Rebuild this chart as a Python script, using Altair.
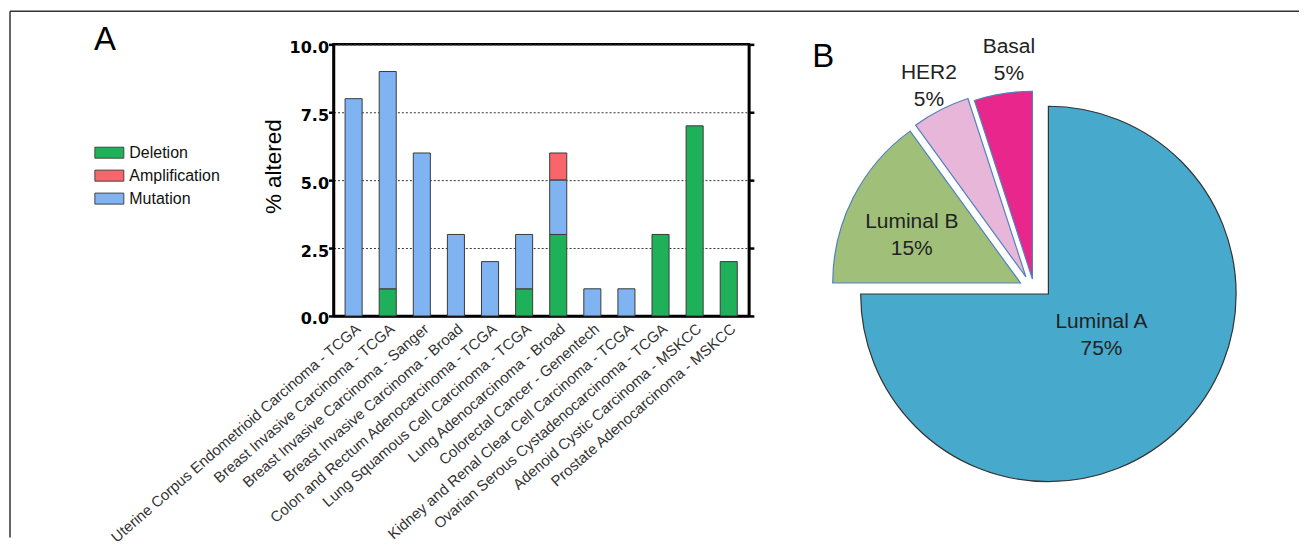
import altair as alt
import pandas as pd

# ---------------- data ----------------
categories = [
    "Uterine Corpus Endometrioid Carcinoma - TCGA",
    "Breast Invasive Carcinoma - TCGA",
    "Breast Invasive Carcinoma - Sanger",
    "Breast Invasive Carcinoma - Broad",
    "Colon and Rectum Adenocarcinoma - TCGA",
    "Lung Squamous Cell Carcinoma - TCGA",
    "Lung Adenocarcinoma - Broad",
    "Colorectal Cancer - Genentech",
    "Kidney and Renal Clear Cell Carcinoma - TCGA",
    "Ovarian Serous Cystadenocarcinoma - TCGA",
    "Adenoid Cystic Carcinoma - MSKCC",
    "Prostate Adenocarcinoma - MSKCC",
]
deletion = [0, 1, 0, 0, 0, 1, 3, 0, 0, 3, 7, 2]
amplification = [0, 0, 0, 0, 0, 0, 1, 0, 0, 0, 0, 0]
mutation = [8, 8, 6, 3, 2, 2, 2, 1, 1, 0, 0, 0]
alteration_types = ["Deletion", "Amplification", "Mutation"]
alteration_colors = ["#1fb15a", "#f8666b", "#80b3f2"]
stack_rank = {"Deletion": 0, "Mutation": 1, "Amplification": 2}
y_ticks = [0, 2.5, 5, 7.5, 10]

subtypes = ["Luminal A", "Luminal B", "HER2", "Basal"]
subtype_pct = [75, 15, 5, 5]
subtype_colors = ["#47aacd", "#a0c07a", "#e8b6d9", "#e8268c"]

# ---------------- tables ----------------
rows = []
for i, c in enumerate(categories):
    for t, vals in (("Deletion", deletion), ("Amplification", amplification), ("Mutation", mutation)):
        if vals[i] > 0:
            rows.append({"cancer": c, "type": t, "value": vals[i], "rank": stack_rank[t]})
bars_df = pd.DataFrame(rows)

pie_df = pd.DataFrame({
    "subtype": subtypes,
    "pct": subtype_pct,
    "ord": list(range(len(subtypes))),
    "label": [f"{s}\n{p}%" for s, p in zip(subtypes, subtype_pct)],
})

FONT = "Liberation Sans"

# ---------------- panel A ----------------
x_enc = alt.X(
    "cancer:N", sort=categories, title=None,
    scale=alt.Scale(paddingInner=0.5, paddingOuter=0.34),
    axis=alt.Axis(labelAngle=-41, labelAlign="right", labelBaseline="top",
                  labelFontSize=15, labelColor="#333", labelFont=FONT,
                  labelPadding=5, ticks=False, domainWidth=2.5, domainColor="black",
                  labelLimit=400, labelOverlap=False),
)

bars = alt.Chart(bars_df).mark_bar(stroke="#3a3a3a", strokeWidth=1).encode(
    x=x_enc,
    y=alt.Y("value:Q", stack="zero", scale=alt.Scale(domain=[0, 10]),
            axis=alt.Axis(title="% altered", titleFontSize=22.5, titleFontWeight="normal",
                          titleColor="black", titleFont=FONT, titleX=-60, titleY=122,
                          titleBaseline="middle",
                          values=y_ticks, format=".1f", labelFontSize=16,
                          labelFontWeight="bold", labelColor="black", labelFont="DejaVu Sans",
                          labelPadding=0, labelOffset=3, tickSize=5, tickWidth=2.5,
                          tickColor="black", domainWidth=2.5, domainColor="black",
                          grid=True, gridDash=[2, 2], gridColor="#333", gridWidth=1)),
    color=alt.Color("type:N", scale=alt.Scale(domain=alteration_types, range=alteration_colors),
                    legend=alt.Legend(title=None, orient="none", legendX=-239.5, legendY=93.5,
                                      symbolType="M-1,-0.38L1,-0.38L1,0.38L-1,0.38Z",
                                      symbolSize=841, symbolStrokeColor="#444",
                                      symbolStrokeWidth=1, symbolOpacity=1,
                                      labelFontSize=16, labelFont=FONT, labelColor="#111",
                                      labelOffset=5, rowPadding=-5, padding=0)),
    order=alt.Order("rank:Q"),
)

right_axis = alt.Chart(bars_df).mark_bar(opacity=0).encode(
    x=x_enc,
    y=alt.Y("value:Q", stack="zero",
            axis=alt.Axis(orient="right", labels=False, title=None, values=y_ticks,
                          tickSize=5, tickWidth=2.5, tickColor="black",
                          domainWidth=2.5, domainColor="black", grid=False)),
)

one = pd.DataFrame({"t": ["A"]})
label_a = alt.Chart(one).mark_text(fontSize=33, font=FONT, color="black").encode(
    text="t:N", x=alt.value(-228.8), y=alt.value(-4.5))

frame_top = alt.Chart(one).mark_rule(color="#333", strokeWidth=1.5).encode(
    x=alt.value(-324), x2=alt.value(967), y=alt.value(-33.25))
frame_left = alt.Chart(one).mark_rule(color="#333", strokeWidth=1.5).encode(
    x=alt.value(-324), y=alt.value(-33.25), y2=alt.value(494))

panel_a = alt.layer(bars, right_axis, label_a, frame_top, frame_left).resolve_axis(
    y="independent").properties(
    width=416, height=272,
    view=alt.ViewBackground(stroke="black", strokeWidth=2.5))

# ---------------- panel B ----------------
theta_scale = alt.Scale(domain=[0, 100], range=[0, 6.283185307])
pie_base = alt.Chart(pie_df).transform_stack(
    stack="pct", groupby=[], as_=["t0", "t1"], sort=[alt.SortField("ord", order="ascending")]
).transform_calculate(tm="(datum.t0 + datum.t1) / 2")

# per-slice centre (exploded), outline colour and label placement
slice_style = {
    "Luminal A": dict(cx=289.5, cy=250, stroke="#333", lr=67, dx=5.8, dy=-19.7),
    "Luminal B": dict(cx=261.5, cy=239, stroke="#4f81bd", lr=119, dx=-2.8, dy=-7),
    "HER2": dict(cx=267, cy=233, stroke="#4f81bd", lr=214, dx=0, dy=-13.5),
    "Basal": dict(cx=273.5, cy=235, stroke="#4f81bd", lr=220, dx=10.9, dy=-14.9),
}

pie_layers = []
for name in subtypes:
    st = slice_style[name]
    sub = pie_base.transform_filter(alt.datum.subtype == name)
    pie_layers.append(
        sub.mark_arc(radius=188, stroke=st["stroke"], strokeWidth=1.2).encode(
            theta=alt.Theta("t0:Q", scale=theta_scale),
            theta2="t1:Q",
            fill=alt.Fill("subtype:N", scale=alt.Scale(domain=subtypes, range=subtype_colors),
                          legend=None),
            x=alt.value(st["cx"]), y=alt.value(st["cy"]),
        )
    )
for name in subtypes:
    st = slice_style[name]
    sub = pie_base.transform_filter(alt.datum.subtype == name)
    pie_layers.append(
        sub.mark_text(radius=st["lr"], dx=st["dx"], dy=st["dy"], lineBreak="\n",
                      fontSize=21, font=FONT, color="#222", lineHeight=27).encode(
            theta=alt.Theta("tm:Q", scale=theta_scale),
            text="label:N",
            x=alt.value(st["cx"]), y=alt.value(st["cy"]),
        )
    )

label_b = alt.Chart(pd.DataFrame({"t": ["B"]})).mark_text(
    fontSize=33, font=FONT, color="black").encode(
    text="t:N", x=alt.value(64), y=alt.value(13))
pie_layers.append(label_b)

panel_b = alt.layer(*pie_layers).properties(
    width=540, height=272, view=alt.ViewBackground(stroke="transparent"))

chart = alt.hconcat(panel_a, panel_b, spacing=10.5, bounds="flush").properties(
    padding={"left": 0, "top": 0, "right": 0, "bottom": 0}
).configure(font=FONT)

chart.save("out.html", embed_options={"renderer": "svg", "actions": False})
